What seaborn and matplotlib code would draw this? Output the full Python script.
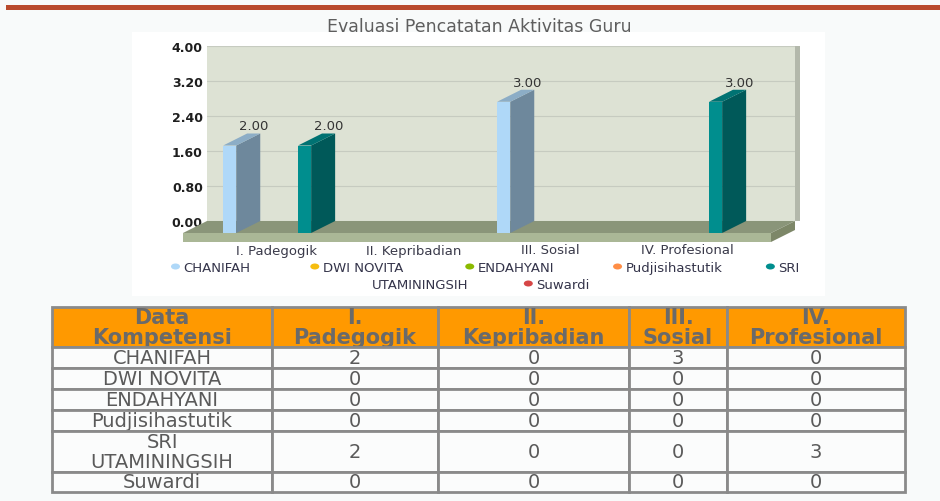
import numpy as np
import pandas as pd
import matplotlib.pyplot as plt
import seaborn as sns
from matplotlib.patches import Polygon, Rectangle, Ellipse
from matplotlib.colors import to_rgb

# ---------- data ----------
categories = ['I. Padegogik', 'II. Kepribadian', 'III. Sosial', 'IV. Profesional']
teachers = ['CHANIFAH', 'DWI NOVITA', 'ENDAHYANI', 'Pudjisihastutik',
            'SRI UTAMININGSIH', 'Suwardi']
chanifah = [2, 0, 3, 0]
dwi_novita = [0, 0, 0, 0]
endahyani = [0, 0, 0, 0]
pudjisihastutik = [0, 0, 0, 0]
sri_utaminingsih = [2, 0, 0, 3]
suwardi = [0, 0, 0, 0]
scores = [chanifah, dwi_novita, endahyani, pudjisihastutik, sri_utaminingsih, suwardi]
palette = ['#AFD8F8', '#F6BD0F', '#8BBA00', '#FF8E46', '#008E8E', '#D64646']
y_ticks = [0.0, 0.8, 1.6, 2.4, 3.2, 4.0]
title = 'Evaluasi Pencatatan Aktivitas Guru'
table_corner = 'Data Kompetensi'

df = pd.DataFrame([(t, c, v) for t, row in zip(teachers, scores)
                   for c, v in zip(categories, row)],
                  columns=['teacher', 'category', 'score'])

W, H = 940, 502
fig = plt.figure(figsize=(W / 100, H / 100), dpi=100)
fig.patch.set_facecolor('#F8FAFA')


def rect(x0, y0, x1, y1):
    # pixel box (y downwards) -> figure fraction rect
    return [x0 / W, 1 - y1 / H, (x1 - x0) / W, (y1 - y0) / H]


# ---------- page / canvas ----------
bg = fig.add_axes([0, 0, 1, 1], zorder=0)
bg.set_xlim(0, W)
bg.set_ylim(H, 0)
bg.axis('off')
bg.add_patch(Rectangle((6, 6), W - 6, 5, color='#B94A2D', lw=0))
bg.add_patch(Rectangle((132, 33), 693, 264, color='white', lw=0))
bg.text(479, 27, title, ha='center', va='center', fontsize=12.5, color='#5E5E5E')

# ---------- chart (back wall of the 3D box) ----------
PX_X, PX_Y = 137.0, 175 / 4
DX, DY, TH = 24, 12, 9          # depth offset and floor thickness, pixels
ax = fig.add_axes(rect(207, 47, 795, 222), zorder=1)
sns.barplot(data=df, x='category', y='score', hue='teacher', order=categories,
            hue_order=teachers, palette=palette, saturation=1, width=0.82, gap=0.3,
            errorbar=None, legend=False, ax=ax)
bars = list(ax.patches)

xl, xr = (207 - 300.5) / PX_X, (795 - 300.5) / PX_X
ax.set_xlim(xl, xr)
ax.set_ylim(0, 4)
dxd, dyd, thd = DX / PX_X, DY / PX_Y, TH / PX_Y

ax.set_facecolor('#DDE2D4')
for s in ax.spines.values():
    s.set_visible(False)
ax.set_xlabel('')
ax.set_ylabel('')
ax.tick_params(axis='x', length=0, labelbottom=False)
ax.set_yticks(y_ticks)
ax.set_yticklabels([f'{v:.2f}' for v in y_ticks], fontweight='bold', fontsize=9,
                   color='#1E1E1E')
ax.tick_params(axis='y', length=0, pad=3)
ax.yaxis.grid(True, color='#C6CBC0', lw=0.8)
ax.set_axisbelow(True)

# right wall shadow
ax.add_patch(Rectangle((xr, 0), 5 / PX_X, 4, transform=ax.transData, color='#B3B8AB',
                       lw=0, clip_on=False, zorder=1.5))
# floor slab
floor_top = [(xl, 0), (xr, 0), (xr - dxd, -dyd), (xl - dxd, -dyd)]
floor_front = [(xl - dxd, -dyd), (xr - dxd, -dyd), (xr - dxd, -dyd - thd), (xl - dxd, -dyd - thd)]
floor_right = [(xr - dxd, -dyd), (xr, 0), (xr, -thd), (xr - dxd, -dyd - thd)]
for pts, col in [(floor_top, '#8A9579'), (floor_front, '#AAB796'), (floor_right, '#7D8768')]:
    ax.add_patch(Polygon(pts, closed=True, fc=col, ec='none', clip_on=False, zorder=2))

# 3D bars built on the seaborn bars
for p in bars:
    h = p.get_height()
    if not h or h <= 0:
        p.set_visible(False)
        continue
    x0, w = p.get_x(), p.get_width()
    x1 = x0 + w
    fc = np.array(to_rgb(p.get_facecolor()))
    p.set_xy((x0 - dxd, -dyd))
    p.set_edgecolor('none')
    p.set_clip_on(False)
    p.set_zorder(3)
    side = [(x1 - dxd, -dyd), (x1, 0), (x1, h), (x1 - dxd, h - dyd)]
    top = [(x0 - dxd, h - dyd), (x1 - dxd, h - dyd), (x1, h), (x0, h)]
    ax.add_patch(Polygon(side, closed=True, fc=fc * 0.63, ec='none', clip_on=False, zorder=3))
    ax.add_patch(Polygon(top, closed=True, fc=fc * 0.8, ec='none', clip_on=False, zorder=3))
    ax.annotate(f'{h:.2f}', (x0 + w / 2, h), xytext=(0, 4), textcoords='offset pixels',
                ha='center', va='baseline', fontsize=9.5, color='#333333',
                annotation_clip=False, zorder=4)

# category labels on the front edge
for i, c in enumerate(categories):
    ax.text(i - dxd, -(251 - 222) / PX_Y, c, ha='center', va='center', fontsize=9.5,
            color='#3A3A4A', clip_on=False)

# ---------- legend (wrapped like the original) ----------
sri_first, sri_rest = teachers[4].split(' ', 1)
legend_items = [(teachers[0], 217, 269, 0), (teachers[1], 363, 269, 1),
                (teachers[2], 516, 269, 2), (teachers[3], 674, 269, 3),
                (sri_first, 789, 269, 4), (sri_rest, 420, 286, None),
                (teachers[5], 563, 286, 5)]
renderer = fig.canvas.get_renderer()
for label, cx, cy, k in legend_items:
    t = bg.text(cx, cy, label, ha='center', va='center', fontsize=9.5, color='#34344A')
    if k is None:
        continue
    x_start = t.get_window_extent(renderer).x0
    bg.add_patch(Ellipse((x_start - 8, cy - 1.5), 9, 6, color=palette[k], lw=0))

# ---------- table ----------
col_w = [220, 166, 191, 98, 178]
row_h = [40, 21, 21, 21, 21, 41, 20]
tab_ax = fig.add_axes(rect(52, 308, 905, 493), zorder=1)
tab_ax.axis('off')
header = [table_corner.replace(' ', '\n')] + [c.replace(' ', '\n', 1) for c in categories]
body = [[t.replace(' ', '\n', 1) if len(t) > 12 else t] + [str(v) for v in row]
        for t, row in zip(teachers, scores)]
tbl = tab_ax.table(cellText=body, colLabels=header,
                   colWidths=[w / sum(col_w) for w in col_w],
                   cellLoc='center', colLoc='center', bbox=[0, 0, 1, 1])
tbl.auto_set_font_size(False)
for (r, c), cell in tbl.get_celld().items():
    cell.set_height(row_h[r] / sum(row_h))
    cell.set_edgecolor('#8A8A8A')
    cell.set_linewidth(2)
    txt = cell.get_text()
    if r == 0:
        cell.set_facecolor('#FF9900')
        txt.set_fontsize(15)
        txt.set_fontweight('bold')
        txt.set_color('#6A6A6A')
        txt.set_linespacing(1.0)
    else:
        cell.set_facecolor('#FBFCFC')
        txt.set_fontsize(14)
        txt.set_color('#5A5A5A')
        txt.set_linespacing(1.12)

fig.savefig('out.png', dpi=100)
